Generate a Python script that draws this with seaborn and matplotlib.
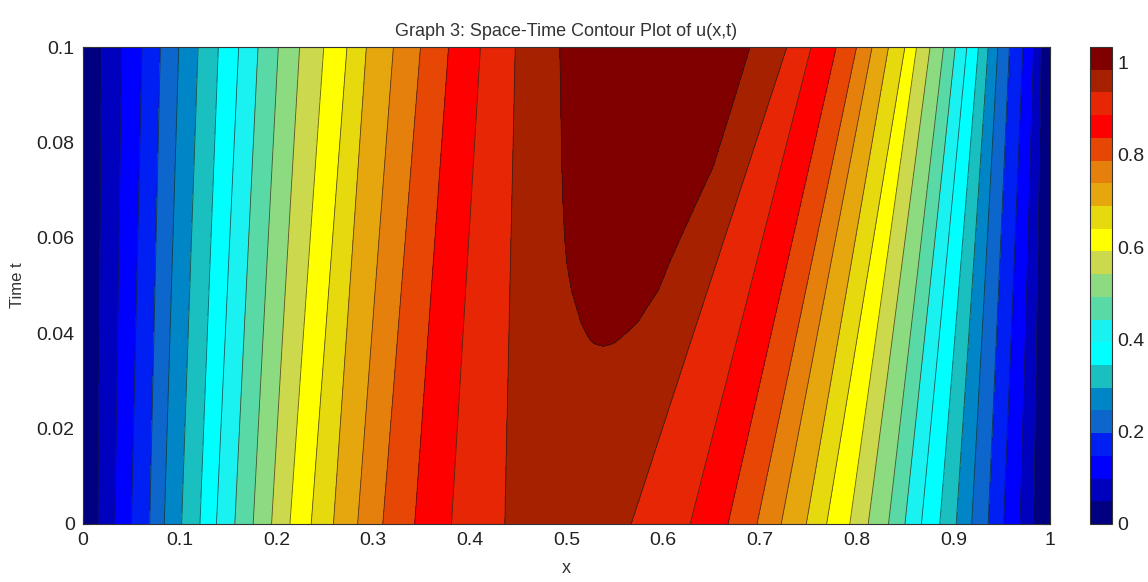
import numpy as np
import matplotlib
matplotlib.use("Agg")
import matplotlib.pyplot as plt
import seaborn as sns
from matplotlib.colors import ListedColormap

# ---------------- data ----------------
u_max = 1.034          # top of the colour scale
n_bands = 21           # filled bands (20 contour levels)

# x position of contour levels L1..L19 on the rising (left) flank
left_t0 = [0.0155, 0.033, 0.050, 0.069, 0.084, 0.102, 0.121, 0.138, 0.157, 0.176,
           0.195, 0.214, 0.236, 0.259, 0.284, 0.310, 0.343, 0.381, 0.436]
left_t1 = [0.019, 0.040, 0.061, 0.080, 0.099, 0.119, 0.140, 0.161, 0.181, 0.202,
           0.224, 0.249, 0.273, 0.293, 0.321, 0.349, 0.378, 0.411, 0.447]
# x position of contour levels L1..L19 on the falling (right) flank
right_t0 = [0.983, 0.969, 0.952, 0.936, 0.919, 0.903, 0.886, 0.867, 0.850, 0.833,
            0.812, 0.793, 0.769, 0.748, 0.722, 0.697, 0.667, 0.628, 0.567]
right_t1 = [0.991, 0.983, 0.972, 0.958, 0.946, 0.936, 0.926, 0.914, 0.902, 0.890,
            0.876, 0.862, 0.850, 0.833, 0.816, 0.800, 0.779, 0.753, 0.728]
t_start, t_end = 0.0, 0.1

# top contour level L20 (the dark-red tongue)
t20 = [0.0372, 0.0378, 0.0393, 0.0421, 0.049, 0.055, 0.060, 0.068, 0.075, 0.088, 0.100]
x20_left = [0.538, 0.528, 0.522, 0.515, 0.505, 0.500, 0.498, 0.496, 0.495, 0.494, 0.493]
x20_right = [0.538, 0.549, 0.558, 0.573, 0.595, 0.607, 0.618, 0.636, 0.652, 0.672, 0.690]

# crest of u(x,t)
t_peak = [0.0, 0.025, 0.0372, 0.049, 0.075, 0.1]
x_peak = [0.500, 0.525, 0.538, 0.550, 0.575, 0.590]
u_peak = [0.950, 0.972, 0.9848, 1.000, 1.018, 1.030]

band_colors = [
    (0.00, 0.00, 0.50), (0.00, 0.00, 0.75), (0.00, 0.00, 1.00), (0.00, 0.12, 0.95),
    (0.05, 0.40, 0.80), (0.00, 0.52, 0.78), (0.10, 0.75, 0.75), (0.00, 1.00, 1.00),
    (0.10, 0.95, 0.95), (0.35, 0.85, 0.65), (0.55, 0.86, 0.50), (0.80, 0.85, 0.30),
    (1.00, 1.00, 0.00), (0.90, 0.85, 0.05), (0.90, 0.65, 0.05), (0.90, 0.50, 0.05),
    (0.90, 0.28, 0.02), (1.00, 0.00, 0.00), (0.90, 0.15, 0.02), (0.65, 0.13, 0.00),
    (0.50, 0.00, 0.00)]

x_ticks = [0, 0.1, 0.2, 0.3, 0.4, 0.5, 0.6, 0.7, 0.8, 0.9, 1.0]
x_tick_labels = ["0", "0.1", "0.2", "0.3", "0.4", "0.5", "0.6", "0.7", "0.8", "0.9", "1"]
t_ticks = [0, 0.02, 0.04, 0.06, 0.08, 0.1]
t_tick_labels = ["0", "0.02", "0.04", "0.06", "0.08", "0.1"]
cb_ticks = [0, 0.2, 0.4, 0.6, 0.8, 1.0]
cb_tick_labels = ["0", "0.2", "0.4", "0.6", "0.8", "1"]

title = "Graph 3: Space-Time Contour Plot of u(x,t)"
xlabel = "x"
ylabel = "Time t"

# ---------------- build the field ----------------
sns.set_theme(style="white")
plt.rcParams['font.family'] = ['Liberation Sans Narrow', 'Liberation Sans', 'DejaVu Sans']

levels = np.linspace(0, u_max, n_bands + 1)
x = np.linspace(0, 1, 1201)
t = np.linspace(t_start, t_end, 401)
U = np.empty((len(t), len(x)))
Lt0, Lt1 = np.array(left_t0), np.array(left_t1)
Rt0, Rt1 = np.array(right_t0), np.array(right_t1)
for i, tt in enumerate(t):
    f = (tt - t_start) / (t_end - t_start)
    L = (1 - f) * Lt0 + f * Lt1
    R = (1 - f) * Rt0 + f * Rt1
    xp = np.interp(tt, t_peak, x_peak)
    up = np.interp(tt, t_peak, u_peak)
    kx = [0.0] + list(L)
    ku = [0.0] + list(levels[1:20])
    if tt > t20[0]:
        a = np.interp(tt, t20, x20_left)
        b = np.interp(tt, t20, x20_right)
        xp = min(max(xp, a + 1e-4), b - 1e-4)
        kx += [a, xp, b]
        ku += [levels[20], max(up, levels[20] + 1e-4), levels[20]]
    else:
        kx += [xp]
        ku += [min(up, levels[20] - 1e-4)]
    kx += list(R[::-1]) + [1.0]
    ku += list(levels[19:0:-1]) + [0.0]
    U[i] = np.interp(x, kx, ku)

X, T = np.meshgrid(x, t)

# ---------------- draw ----------------
fig = plt.figure(figsize=(11.48, 5.82), dpi=100)
ax = fig.add_axes([83 / 1148, 1 - 524 / 582, 967 / 1148, 477 / 582])
cax = fig.add_axes([1090 / 1148, 1 - 524 / 582, 22 / 1148, 477 / 582])

cmap = ListedColormap(band_colors)
cf = ax.contourf(X, T, U, levels=levels, cmap=cmap, vmin=0, vmax=u_max)
ax.contour(X, T, U, levels=levels[1:-1], colors='k', linewidths=0.6, alpha=0.7)

ax.set_xlim(0, 1)
ax.set_ylim(t_start, t_end)
ax.set_xticks(x_ticks)
ax.set_xticklabels(x_tick_labels)
ax.set_yticks(t_ticks)
ax.set_yticklabels(t_tick_labels)
ax.tick_params(direction='in', length=5, width=0.8, labelsize=14, colors='#222222',
               top=True, right=True, bottom=True, left=True, pad=6)
for s in ax.spines.values():
    s.set_color('#333333')
    s.set_linewidth(0.8)
ax.set_title(title, fontsize=13, color='#333333', pad=8)
ax.set_xlabel(xlabel, fontsize=13, color='#333333', labelpad=8)
ax.set_ylabel(ylabel, fontsize=12, color='#333333', labelpad=8)

cb = fig.colorbar(cf, cax=cax, ticks=cb_ticks)
cb.ax.set_yticklabels(cb_tick_labels)
cb.ax.tick_params(direction='in', length=4, labelsize=14, colors='#222222', pad=4)
cb.outline.set_edgecolor('#333333')
cb.outline.set_linewidth(0.8)

fig.savefig("out.png", dpi=100)
